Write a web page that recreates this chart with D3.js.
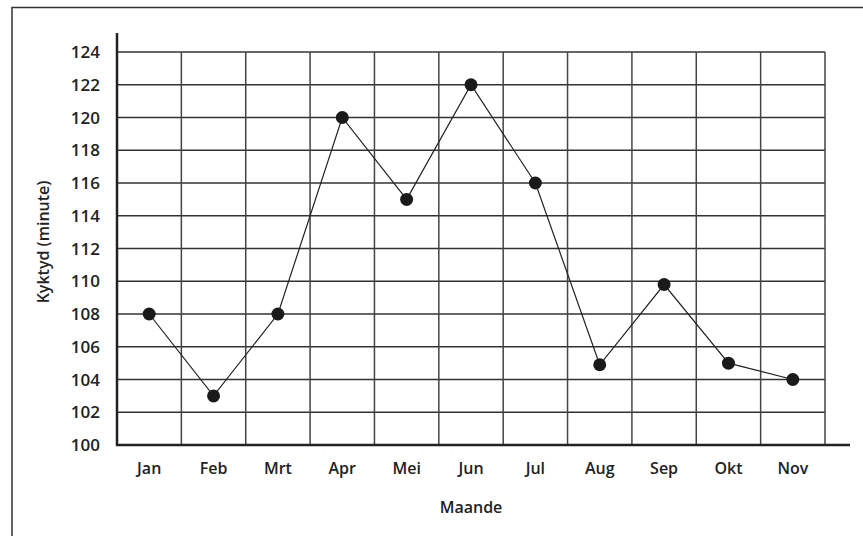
<!DOCTYPE html>
<html><head><meta charset="utf-8">
<script src="https://cdn.jsdelivr.net/npm/d3@7"></script>
<style>
html,body{margin:0;padding:0;background:#fff;}
text{font-family:"Open Sans","Liberation Sans",sans-serif;fill:#222;}
</style></head>
<body>
<svg id="c" width="863" height="536"></svg>
<script>
const months = ["Jan","Feb","Mrt","Apr","Mei","Jun","Jul","Aug","Sep","Okt","Nov"];
const values = [108,103,108,120,115,122,116,104.9,109.8,105,104];
const yTicks = [100,102,104,106,108,110,112,114,116,118,120,122,124];
const xTitle = "Maande";
const yTitle = "Kyktyd (minute)";

const svg = d3.select("#c");
const ink = "#222";
// outer frame
svg.append("rect").attr("x",12).attr("y",7.5).attr("width",870).attr("height",560)
  .attr("fill","none").attr("stroke","#333").attr("stroke-width",1.5);

const left=117, right=825, axisEnd=850, bottom=445;
const x = d3.scaleBand().domain(months).range([left,right]).padding(0);
const y = d3.scaleLinear().domain([100,124]).range([bottom,52]);

const g = svg.append("g");
// horizontal grid
g.selectAll("line.h").data(yTicks.slice(1)).join("line")
  .attr("x1",left).attr("x2",right).attr("y1",d=>y(d)).attr("y2",d=>y(d))
  .attr("stroke","#333").attr("stroke-width",1.5);
// vertical grid
g.selectAll("line.v").data(months).join("line")
  .attr("x1",d=>x(d)+x.bandwidth()).attr("x2",d=>x(d)+x.bandwidth())
  .attr("y1",y(124)).attr("y2",bottom)
  .attr("stroke","#444").attr("stroke-width",1.5);

// axes lines
svg.append("line").attr("x1",left).attr("x2",left).attr("y1",33).attr("y2",bottom+1)
  .attr("stroke",ink).attr("stroke-width",2.5);
svg.append("line").attr("x1",left-1).attr("x2",axisEnd).attr("y1",bottom).attr("y2",bottom)
  .attr("stroke",ink).attr("stroke-width",2.5);

const fw = 600;
// y tick labels
svg.selectAll("text.yt").data(yTicks).join("text")
  .attr("x",100).attr("y",d=>y(d)).attr("dy","0.36em").attr("text-anchor","end")
  .attr("font-size",17).attr("font-weight",fw).text(d=>d);
// x tick labels
svg.selectAll("text.xt").data(months).join("text")
  .attr("x",d=>x(d)+x.bandwidth()/2).attr("y",474).attr("text-anchor","middle")
  .attr("font-size",16).attr("font-weight",fw).text(d=>d);

svg.append("text").attr("x",(left+right)/2).attr("y",513).attr("text-anchor","middle")
  .attr("font-size",16).attr("font-weight",fw).text(xTitle);
svg.append("text").attr("transform","translate(49,242) rotate(-90)").attr("text-anchor","middle")
  .attr("font-size",16).attr("font-weight",fw).text(yTitle);

// line
const line = d3.line().x((d,i)=>x(months[i])+x.bandwidth()/2).y(d=>y(d));
svg.append("path").datum(values).attr("d",line).attr("fill","none").attr("stroke",ink).attr("stroke-width",1.2);
svg.selectAll("circle").data(values).join("circle")
  .attr("cx",(d,i)=>x(months[i])+x.bandwidth()/2).attr("cy",d=>y(d)).attr("r",6.5).attr("fill","#1a1a1a");
</script>
</body></html>
